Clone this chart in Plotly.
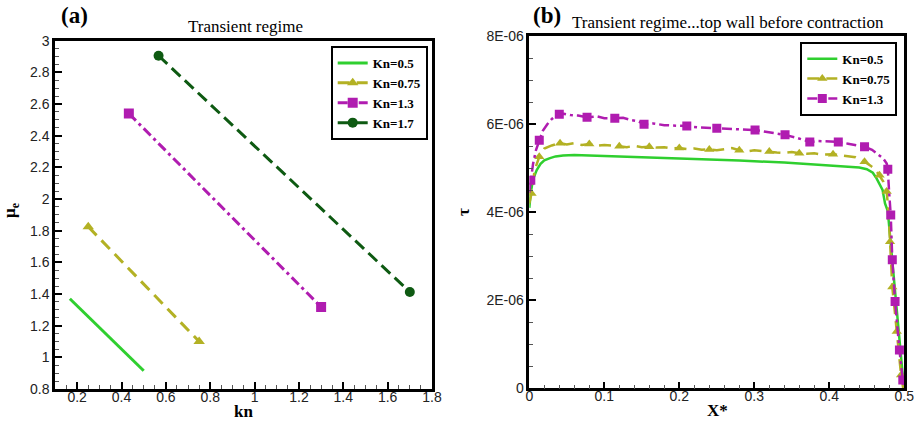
import plotly.graph_objects as go

# ---------------- (a) effective viscosity vs Knudsen number ----------------
kn_labels = ["Kn=0.5", "Kn=0.75", "Kn=1.3", "Kn=1.7"]
kn_x = [[0.167, 0.5], [0.25, 0.75], [0.433, 1.3], [0.567, 1.7]]
mu_e = [[1.37, 0.915], [1.825, 1.10], [2.54, 1.318], [2.905, 1.413]]

# ---------------- (b) wall shear stress along the top wall ----------------
x_05 = [0.0, 0.002, 0.005, 0.0099, 0.015, 0.02, 0.0276, 0.035, 0.045, 0.06, 0.08,
        0.1, 0.12, 0.14, 0.16, 0.18, 0.2, 0.22, 0.24, 0.26, 0.28, 0.3, 0.32, 0.34,
        0.36, 0.38, 0.4, 0.42, 0.44, 0.45, 0.458, 0.463, 0.467, 0.471, 0.4743,
        0.478, 0.482, 0.486, 0.49, 0.494, 0.497, 0.4995]
tau_05 = [4.1, 4.45, 4.75, 4.96, 5.1, 5.18, 5.23, 5.27, 5.29, 5.3, 5.29,
          5.28, 5.27, 5.26, 5.25, 5.23, 5.22, 5.21, 5.2, 5.19, 5.18, 5.16, 5.15, 5.13,
          5.11, 5.09, 5.07, 5.05, 5.02, 4.98, 4.9, 4.77, 4.65, 4.51, 4.2,
          4.03, 3.27, 2.51, 1.75, 0.99, 0.42, 0.0]

x_075 = [0.0, 0.003, 0.007, 0.0133, 0.02, 0.03, 0.041, 0.05, 0.06, 0.07, 0.08,
         0.09, 0.1, 0.11, 0.12, 0.13, 0.14, 0.15, 0.16, 0.17, 0.18, 0.19, 0.2,
         0.21, 0.22, 0.23, 0.24, 0.25, 0.26, 0.27, 0.28, 0.29, 0.3, 0.31, 0.32,
         0.33, 0.34, 0.35, 0.36, 0.37, 0.38, 0.39, 0.405, 0.415, 0.425, 0.435,
         0.447, 0.455, 0.462, 0.467, 0.472, 0.4765, 0.479, 0.481, 0.484, 0.487,
         0.4899, 0.493, 0.4957, 0.4985]
tau_075 = [4.2, 4.43, 4.95, 5.26, 5.45, 5.52, 5.57, 5.54, 5.57, 5.53, 5.55,
           5.51, 5.53, 5.52, 5.5, 5.48, 5.51, 5.48, 5.49, 5.47, 5.48, 5.45, 5.46,
           5.44, 5.45, 5.42, 5.43, 5.41, 5.44, 5.46, 5.41, 5.38, 5.41, 5.39, 5.38,
           5.36, 5.35, 5.37, 5.34, 5.33, 5.34, 5.31, 5.32, 5.3, 5.28, 5.25,
           5.15, 5.06, 4.96, 4.84, 4.7, 4.47, 4.0, 3.33, 2.3, 1.8,
           1.29, 0.78, 0.3, 0.0]
marks_075 = [0.003, 0.0133, 0.041, 0.08, 0.12, 0.16, 0.2, 0.24, 0.28, 0.32, 0.36,
             0.405, 0.447, 0.467, 0.4765, 0.481, 0.484, 0.4899, 0.4957]

x_13 = [0.0, 0.002, 0.005, 0.009, 0.0133, 0.018, 0.024, 0.03, 0.035, 0.04, 0.046,
        0.055, 0.065, 0.077, 0.09, 0.1, 0.114, 0.125, 0.135, 0.145, 0.153, 0.165,
        0.18, 0.195, 0.21, 0.225, 0.24, 0.25, 0.265, 0.28, 0.29, 0.301, 0.315,
        0.33, 0.341, 0.355, 0.365, 0.374, 0.385, 0.4, 0.412, 0.425, 0.437, 0.447,
        0.457, 0.466, 0.472, 0.4765, 0.478, 0.4798, 0.4819, 0.484, 0.4877, 0.4935,
        0.498, 0.4993]
tau_13 = [4.45, 4.73, 5.1, 5.42, 5.64, 5.85, 6.0, 6.12, 6.19, 6.23, 6.24,
          6.21, 6.2, 6.16, 6.18, 6.14, 6.14, 6.15, 6.1, 6.07, 6.0, 6.02,
          5.98, 5.97, 5.96, 5.93, 5.92, 5.91, 5.9, 5.89, 5.87, 5.87, 5.83,
          5.79, 5.76, 5.7, 5.65, 5.6, 5.62, 5.6, 5.6, 5.56, 5.52, 5.49,
          5.42, 5.3, 5.22, 5.11, 4.98, 4.45, 3.94, 2.92, 1.97, 0.87,
          0.19, 0.0]
marks_13 = [0.002, 0.0133, 0.04, 0.077, 0.114, 0.153, 0.21, 0.25, 0.301, 0.341,
            0.374, 0.412, 0.447, 0.478, 0.4819, 0.484, 0.4877, 0.4935, 0.498]

tau_ticks = [0, 2e-6, 4e-6, 6e-6, 8e-6]
tau_tick_text = ["0", "2E-06", "4E-06", "6E-06", "8E-06"]

assert len(x_05) == len(tau_05)
assert len(x_075) == len(tau_075)
assert len(x_13) == len(tau_13)

# ---------------- styling ----------------
GREEN = "#2fcf2f"
OLIVE = "#b3b124"
MAGENTA = "#b01cb0"
DKGREEN = "#0e5a12"
colors = [GREEN, OLIVE, MAGENTA, DKGREEN]
dashes = ["solid", "12px,7px", "10px,4px,3px,4px", "12px,6px"]
symbols = [None, "triangle-up", "square", "circle"]

SERIF = "Liberation Serif, Times New Roman, serif"
SANS = "Liberation Sans, Arial, sans-serif"

fig = go.Figure()

# panel (a)
for lab, xs, ys, c, d, s in zip(kn_labels, kn_x, mu_e, colors, dashes, symbols):
    fig.add_trace(go.Scatter(
        x=xs, y=ys, name=lab, xaxis="x", yaxis="y", legend="legend",
        mode="lines" if s is None else "lines+markers",
        line=dict(color=c, width=3, dash=d),
        marker=dict(symbol=s or "circle", size=10, color=c),
    ))


def pick(xs, ys, marks):
    idx = [xs.index(v) for v in marks]
    return [xs[i] for i in idx], [ys[i] for i in idx]


# panel (b)
tau_series = [
    ("Kn=0.5", x_05, tau_05, None, GREEN, "solid", None),
    ("Kn=0.75", x_075, tau_075, marks_075, OLIVE, "12px,7px", "triangle-up"),
    ("Kn=1.3", x_13, tau_13, marks_13, MAGENTA, "10px,4px,3px,4px", "square"),
]
for lab, xs, ts, marks, c, d, s in tau_series:
    ys = [v * 1e-6 for v in ts]
    fig.add_trace(go.Scatter(
        x=xs, y=ys, xaxis="x2", yaxis="y2", mode="lines", showlegend=False,
        line=dict(color=c, width=2.5, dash=d), hoverinfo="x+y",
    ))
    if marks:
        mx, my = pick(xs, ys, marks)
        fig.add_trace(go.Scatter(
            x=mx, y=my, xaxis="x2", yaxis="y2", mode="markers", showlegend=False,
            marker=dict(symbol=s, size=9, color=c),
        ))
    # legend entry for this series
    fig.add_trace(go.Scatter(
        x=[None], y=[None], xaxis="x2", yaxis="y2", name=lab, legend="legend2",
        mode="lines" if s is None else "lines+markers",
        line=dict(color=c, width=2.5, dash=d),
        marker=dict(symbol=s or "circle", size=9, color=c),
    ))

tickfont = dict(family=SANS, size=14, color="#222")
axis_common = dict(
    showline=True, linecolor="black", linewidth=2.5, mirror=True,
    ticks="inside", tickcolor="black", tickwidth=2, ticklen=7,
    showgrid=False, zeroline=False, tickfont=tickfont, automargin=False,
)
minor_style = dict(ticks="inside", ticklen=4, tickcolor="#555", tickwidth=1)

W, H = 920, 423


def px_x(p):
    return p / W


def px_y(p):
    return 1 - p / H


def label(text, x, y, size, angle=0):
    return dict(text=text, x=px_x(x), y=px_y(y), xref="paper", yref="paper",
                xanchor="center", yanchor="middle", showarrow=False, textangle=angle,
                font=dict(family=SERIF, size=size, color="black"))


legend_font = dict(family=SERIF, size=13, color="black", weight="bold")

fig.update_layout(
    width=W, height=H,
    margin=dict(l=0, r=0, t=0, b=0, pad=0, autoexpand=False),
    paper_bgcolor="white", plot_bgcolor="white",
    xaxis=dict(domain=[px_x(55), px_x(432)], range=[0.1, 1.8], dtick=0.2, tick0=0,
               minor=dict(dtick=0.05, **minor_style), ticklabelstandoff=-7,
               anchor="y", **axis_common),
    yaxis=dict(domain=[px_y(389), px_y(40.7)], range=[0.8, 3], dtick=0.2, tick0=0,
               minor=dict(dtick=0.05, **minor_style),
               anchor="x", **axis_common),
    xaxis2=dict(domain=[px_x(529.3), px_x(904.3)], range=[0, 0.5], dtick=0.1, tick0=0,
                minor=dict(dtick=0.02, **minor_style), ticklabelstandoff=-7,
                anchor="y2", **axis_common),
    yaxis2=dict(domain=[px_y(388.3), px_y(36.3)], range=[0, 8e-6],
                tickvals=tau_ticks, ticktext=tau_tick_text,
                minor=dict(dtick=5e-7, tick0=0, **minor_style),
                anchor="x2", **axis_common),
    legend=dict(x=px_x(427.7), xanchor="right", y=px_y(46), yanchor="top",
                bgcolor="white", bordercolor="black", borderwidth=2,
                font=legend_font, tracegroupgap=0, itemwidth=30),
    legend2=dict(x=px_x(897.3), xanchor="right", y=px_y(41.7), yanchor="top",
                 bgcolor="white", bordercolor="black", borderwidth=2,
                 font=legend_font, tracegroupgap=0, itemwidth=30),
    annotations=[
        # panel tags and titles
        label("<b>(a)</b>", 74, 15, 23),
        label("Transient regime", 245, 27, 17),
        label("<b>(b)</b>", 546.7, 15, 23),
        label("Transient regime...top wall before contraction", 727.5, 23, 17),
        # axis titles
        label("<b>kn</b>", 243.5, 411, 17),
        label("<b>μ<sub>e</sub></b>", 11, 211, 17, -90),
        label("<b>X*</b>", 717, 410, 17),
        label("<b>τ</b>", 464, 212, 17, -90),
    ],
)

fig.write_html("out.html")
